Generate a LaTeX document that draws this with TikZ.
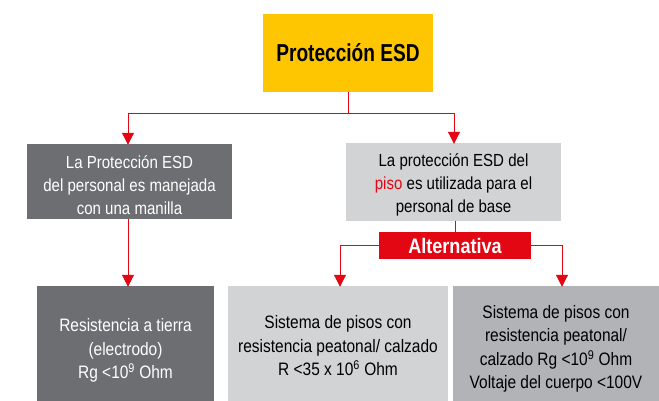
\documentclass[tikz,border=0pt]{standalone}
\usepackage{fontspec}
\setmainfont[FakeStretch=0.86]{Liberation Sans}
\newfontfamily\titlefont[FakeStretch=0.78]{Liberation Sans}
\usetikzlibrary{arrows.meta}
\definecolor{esdyellow}{HTML}{FEC600}
\definecolor{esddark}{HTML}{6D6E71}
\definecolor{esdlight}{HTML}{D1D3D4}
\definecolor{esdmid}{HTML}{B1B3B6}
\definecolor{esdred}{HTML}{E30613}
\begin{document}
\begin{tikzpicture}[x=1pt,y=-1pt,
  box/.style={inner sep=0pt, align=center, font=\fontsize{17.5}{23}\selectfont},
  lowbox/.style={box, minimum height=115pt},
  lowtext/.style={inner sep=0pt, align=center, font=\fontsize{18}{23.5}\selectfont},
  conn/.style={draw=esdred, line width=1pt},
  arr/.style={conn, -{Triangle[width=12pt,length=12pt]}, shorten >=-1pt}]
\useasboundingbox (0,0) rectangle (659,401);
\node[box, fill=esdyellow, minimum width=170pt, minimum height=78pt,
  font=\titlefont\fontsize{24.5}{28}\selectfont\bfseries] (top) at (348,53) {Protección ESD};
\node[box, fill=esddark, minimum width=205pt, minimum height=75pt] (lb) at (129.5,181.5) {};
\node[box, text=white] (lbt) at (129.5,185) {La Protección ESD\\del personal es manejada\\con una manilla};
\node[box, fill=esdlight, minimum width=215pt, minimum height=78pt] (rb) at (453.5,182) {};
\node[box] (rbt) at (453.5,184.5) {La protección ESD del\\\textcolor{esdred}{piso} es utilizada para el\\personal de base};
\node[box, fill=esdred, text=white, minimum width=152pt, minimum height=27pt,
  font=\fontsize{21}{24}\selectfont\bfseries] (alt) at (455,245.5) {Alternativa};
\node[lowbox, fill=esddark, minimum width=177pt] (b1) at (125.5,343.5) {};
\node[lowtext, text=white] (b1t) at (125.5,350.5) {Resistencia a tierra\\(electrodo)\\Rg <10\textsuperscript{9} Ohm};
\node[lowbox, fill=esdlight, minimum width=220pt] (b2) at (338,343.5) {};
\node[lowtext] (b2t) at (338,346) {Sistema de pisos con\\resistencia peatonal/ calzado\\R <35 x 10\textsuperscript{6} Ohm};
\node[lowbox, fill=esdmid, minimum width=206pt] (b3) at (556,343.5) {};
\node[lowtext] (b3t) at (556,349) {Sistema de pisos con\\resistencia peatonal/\\calzado Rg <10\textsuperscript{9} Ohm\\Voltaje del cuerpo <100V};
\coordinate (j1) at (348,114);
\coordinate (j1l) at (128,114);
\coordinate (j1r) at (454,114);
\draw[conn] (top.south) -- (j1);
\draw[arr] (j1) -- (j1l) -- (j1l |- lb.north);
\draw[arr] (j1) -- (j1r) -- (j1r |- rb.north);
\draw[arr] (j1l |- lb.south) -- (j1l |- b1.north);
\draw[conn] (rb.south -| alt.north) -- (alt.north);
\coordinate (al) at (340,245.5);
\coordinate (ar) at (562,245.5);
\draw[arr] (alt.west) -- (al) -- (al |- b2.north);
\draw[arr] (alt.east) -- (ar) -- (ar |- b3.north);
\end{tikzpicture}
\end{document}
